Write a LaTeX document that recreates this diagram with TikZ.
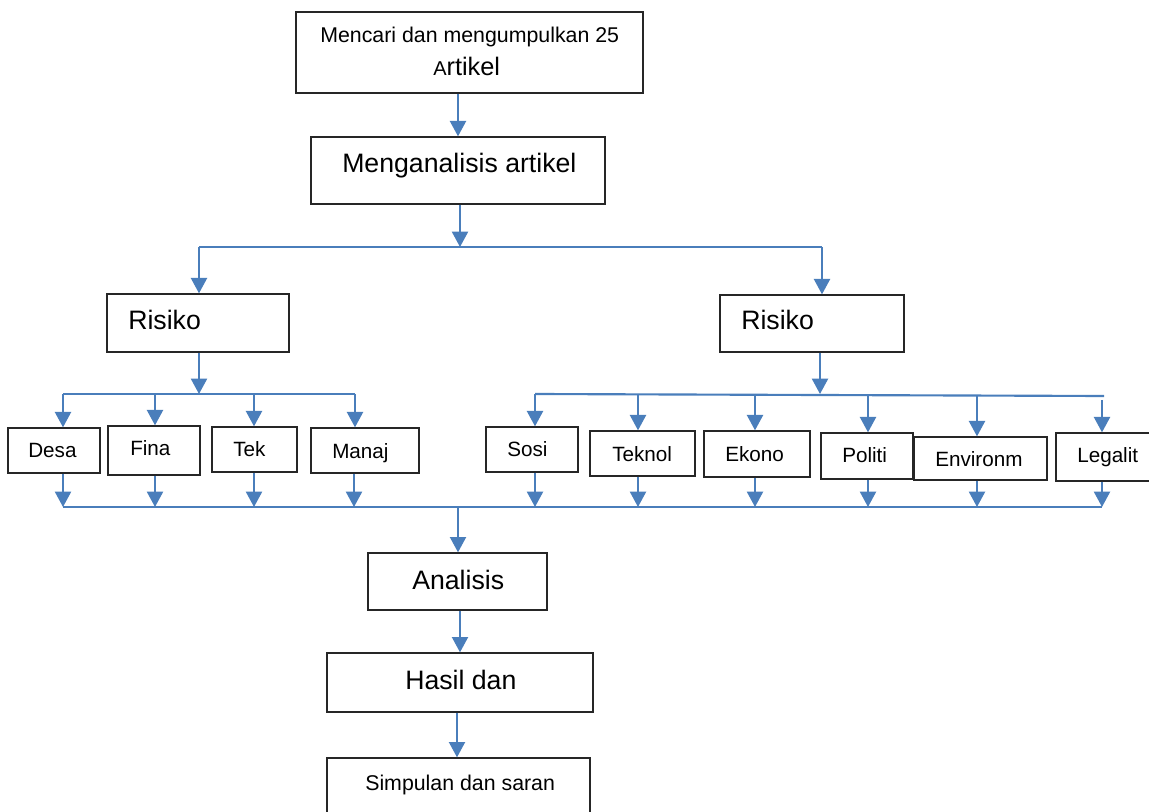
\documentclass[tikz,border=0pt]{standalone}
\usepackage{fontspec}
\setmainfont{Liberation Sans}
\usetikzlibrary{arrows.meta,fit}
\definecolor{arrblue}{RGB}{74,126,187}
\tikzset{
  box/.style={draw=black!85, line width=1pt, inner sep=0pt, fill=white},
  txt/.style={anchor=base west, inner sep=0pt},
  big/.style={font=\fontsize{20}{24}\selectfont},
  mid/.style={font=\fontsize{16}{19}\selectfont},
  sml/.style={font=\fontsize{15.5}{18}\selectfont},
  link/.style={draw=arrblue, line width=1.6pt},
  arr/.style={link, -{Triangle[length=11.5pt,width=12pt]}},
}
\begin{document}
\begin{tikzpicture}[x=0.75pt,y=-0.75pt]
\useasboundingbox (0,0) rectangle (1149,812);
\clip (0,0) rectangle (1149,812);
% main boxes
\node[box, fit={(296,12) (643,93)}] (b1) {};
\node[box, fit={(311,137) (605,204)}] (b2) {};
\node[box, fit={(107,294) (289,352)}] (rL) {};
\node[box, fit={(720,295) (904,352)}] (rR) {};
\node[box, fit={(368,553) (547,610)}] (an) {};
\node[box, fit={(327,653) (593,712)}] (hs) {};
\node[box, fit={(327,758) (590,830)}] (sp) {};
% small boxes left
\node[box, fit={(8,428) (100,473)}] (desa) {};
\node[box, fit={(108,426) (200,475)}] (fina) {};
\node[box, fit={(212,427) (297,472)}] (tek) {};
\node[box, fit={(311,428) (419,473)}] (manaj) {};
% small boxes right
\node[box, fit={(486,427) (578,472)}] (sosi) {};
\node[box, fit={(590,431) (695,476)}] (teknol) {};
\node[box, fit={(704,431) (810,477)}] (ekono) {};
\node[box, fit={(821,433) (913,479)}] (politi) {};
\node[box, fit={(914,437) (1047,480)}] (env) {};
\node[box, fit={(1056,433) (1170,481)}] (legal) {};
% texts
\node[txt, mid] (t1) at (320,43) {Mencari dan mengumpulkan 25};
\node[txt] (t1b) at (433,76) {{\fontsize{15}{18}\selectfont A}{\fontsize{19}{22}\selectfont rtikel}};
\node[txt, big] (t2) at (342,173) {Menganalisis artikel};
\node[txt, big] (trl) at (128,330) {Risiko};
\node[txt, big] (trr) at (741,330) {Risiko};
\node[txt, sml] (tdesa) at (28,458) {Desa};
\node[txt, sml] (tfina) at (130,456) {Fina};
\node[txt, sml] (ttek) at (233,457) {Tek};
\node[txt, sml] (tmanaj) at (332,459) {Manaj};
\node[txt, sml] (tsosi) at (507,457) {Sosi};
\node[txt, sml] (tteknol) at (612,462) {Teknol};
\node[txt, sml] (tekono) at (725,462) {Ekono};
\node[txt, sml] (tpoliti) at (842,463) {Politi};
\node[txt, sml] (tenv) at (935,467) {Environm};
\node[txt, sml] (tlegal) at (1077,463) {Legalit};
\node[txt, big] (tan) at (412,589) {Analisis};
\node[txt, big] (ths) at (405,689) {Hasil dan};
\node[txt, mid] (tsp) at (365,790) {Simpulan dan saran};
% junction coordinates
\coordinate (j1) at (460,247);
\coordinate (jL) at (199,247);
\coordinate (jR) at (822,247);
\coordinate (kL) at (199,394);
\coordinate (kLa) at (63,394);
\coordinate (kLb) at (355,394);
\coordinate (kR) at (820,394);
\coordinate (kRa) at (535,394);
\coordinate (kRb) at (1104,396);
\coordinate (m) at (458,507);
\coordinate (ma) at (63,507);
\coordinate (mb) at (1102,507);
% connectors top
\draw[arr] (b2.north |- b1.south) -- (b2.north);
\draw[arr] (j1 |- b2.south) -- (j1);
\draw[link] (jL) -- (jR);
\draw[arr] (jL) -- (jL |- rL.north);
\draw[arr] (jR) -- (jR |- rR.north);
% left branch
\draw[arr] (kL |- rL.south) -- (kL);
\draw[link] (kLa) -- (kLb);
\draw[arr] (63,394) -- (63,0 |- desa.north);
\draw[arr] (155,394) -- (155,0 |- fina.north);
\draw[arr] (254,394) -- (254,0 |- tek.north);
\draw[arr] (355,394) -- (355,0 |- manaj.north);
% right branch
\draw[arr] (kR |- rR.south) -- (kR);
\draw[link] (kRa) -- (kRb);
\draw[arr] (535,394) -- (535,0 |- sosi.north);
\draw[arr] (638,394) -- (638,0 |- teknol.north);
\draw[arr] (755,394) -- (755,0 |- ekono.north);
\draw[arr] (868,395) -- (868,0 |- politi.north);
\draw[arr] (977,395) -- (977,0 |- env.north);
\draw[arr] (1102,400) -- (1102,0 |- legal.north);
% bottom collectors
\draw[arr] (63,0 |- desa.south) -- (63,507);
\draw[arr] (155,0 |- fina.south) -- (155,507);
\draw[arr] (254,0 |- tek.south) -- (254,507);
\draw[arr] (354,0 |- manaj.south) -- (354,507);
\draw[arr] (535,0 |- sosi.south) -- (535,507);
\draw[arr] (638,0 |- teknol.south) -- (638,507);
\draw[arr] (755,0 |- ekono.south) -- (755,507);
\draw[arr] (868,0 |- politi.south) -- (868,507);
\draw[arr] (977,0 |- env.south) -- (977,507);
\draw[arr] (1102,0 |- legal.south) -- (1102,507);
\draw[link] (ma) -- (mb);
% lower chain
\draw[arr] (m) -- (m |- an.north);
\draw[arr] (460,0 |- an.south) -- (460,0 |- hs.north);
\draw[arr] (457,0 |- hs.south) -- (457,0 |- sp.north);
\end{tikzpicture}
\end{document}
